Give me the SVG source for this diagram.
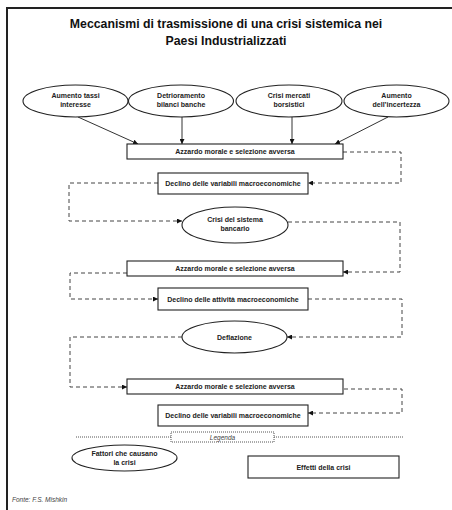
<svg xmlns="http://www.w3.org/2000/svg" width="452" height="510" viewBox="0 0 452 510">
<style>
.t{font-family:"Liberation Sans",Arial,sans-serif;font-weight:bold;font-size:7px;fill:#222;text-anchor:middle}
.title{font-family:"Liberation Sans",Arial,sans-serif;font-weight:bold;font-size:12.3px;fill:#111;text-anchor:middle}
.shape{fill:#fff;stroke:#222;stroke-width:1.1}
.solid{fill:none;stroke:#333;stroke-width:1}
.dash{fill:none;stroke:#444;stroke-width:1;stroke-dasharray:4,3}
.it{font-family:"Liberation Sans",Arial,sans-serif;font-style:italic;font-size:6.5px;fill:#444}
</style>
<defs>
<marker id="ah" viewBox="0 0 10 10" refX="10" refY="5" markerWidth="5" markerHeight="5" orient="auto" markerUnits="userSpaceOnUse">
<path d="M0,0 L10,5 L0,10 z" fill="#111"/>
</marker>
</defs>
<rect width="452" height="510" fill="#fff"/>
<path d="M7,510 V8 H452" fill="none" stroke="#222" stroke-width="2"/>
<g id="title">
<text class="title" x="226" y="28">Meccanismi di trasmissione di una crisi sistemica nei</text>
<text class="title" x="226" y="45">Paesi Industrializzati</text>
</g>
<g id="connectors">
<path class="solid" d="M78,117 L138,144" marker-end="url(#ah)"/>
<path class="solid" d="M182,117 V144" marker-end="url(#ah)"/>
<path class="solid" d="M292,117 V144" marker-end="url(#ah)"/>
<path class="solid" d="M388,117 L335,144" marker-end="url(#ah)"/>
<path class="dash" d="M343,152 H401 V183 H308" marker-end="url(#ah)"/>
<path class="dash" d="M158,183 H69 V221 H182" marker-end="url(#ah)"/>
<path class="dash" d="M288,222 H400 V272 H343" marker-end="url(#ah)"/>
<path class="dash" d="M127,273 H70 V299 H158" marker-end="url(#ah)"/>
<path class="dash" d="M308,299 H402 V337 H287" marker-end="url(#ah)"/>
<path class="dash" d="M182,337 H70 V387 H127" marker-end="url(#ah)"/>
<path class="dash" d="M344,389 H402 V413 H308" marker-end="url(#ah)"/>
</g>
<g id="n1"><ellipse class="shape" cx="75.5" cy="101" rx="52.5" ry="16"/><text class="t" x="75.5" y="98">Aumento tassi</text><text class="t" x="75.5" y="107">interesse</text></g>
<g id="n2"><ellipse class="shape" cx="181" cy="101" rx="52.5" ry="16"/><text class="t" x="181" y="98">Detrioramento</text><text class="t" x="181" y="107">bilanci banche</text></g>
<g id="n3"><ellipse class="shape" cx="289" cy="101" rx="53" ry="16"/><text class="t" x="289" y="98">Crisi mercati</text><text class="t" x="289" y="107">borsistici</text></g>
<g id="n4"><ellipse class="shape" cx="396.5" cy="101" rx="52.5" ry="16"/><text class="t" x="396.5" y="98">Aumento</text><text class="t" x="396.5" y="107">dell’incertezza</text></g>
<g id="b1"><rect class="shape" x="127" y="144" width="216" height="15"/><text class="t" x="235" y="154">Azzardo morale e selezione avversa</text></g>
<g id="b2"><rect class="shape" x="158" y="173" width="150" height="21"/><text class="t" x="233" y="186">Declino delle variabili macroeconomiche</text></g>
<g id="e1"><ellipse class="shape" cx="235" cy="225" rx="53" ry="18"/><text class="t" x="235" y="222">Crisi del sistema</text><text class="t" x="235" y="231">bancario</text></g>
<g id="b3"><rect class="shape" x="127" y="261" width="216" height="15"/><text class="t" x="235" y="271">Azzardo morale e selezione avversa</text></g>
<g id="b4"><rect class="shape" x="158" y="288" width="150" height="22"/><text class="t" x="233" y="302">Declino delle attività macroeconomiche</text></g>
<g id="e2"><ellipse class="shape" cx="234.5" cy="337" rx="52.5" ry="16"/><text class="t" x="234.5" y="340">Deflazione</text></g>
<g id="b5"><rect class="shape" x="127" y="379" width="216" height="15"/><text class="t" x="235" y="389">Azzardo morale e selezione avversa</text></g>
<g id="b6"><rect class="shape" x="158" y="405" width="150" height="21"/><text class="t" x="233" y="418">Declino delle variabili macroeconomiche</text></g>
<g id="legend">
<path d="M76,437 H403" fill="none" stroke="#555" stroke-width="1" stroke-dasharray="1,1"/>
<rect x="171" y="432" width="103" height="10" fill="#fff" stroke="#555" stroke-width="1" stroke-dasharray="1,1"/>
<text class="it" x="222.5" y="440" text-anchor="middle">Legenda</text>
</g>
<g id="leg1"><ellipse class="shape" cx="124.5" cy="458" rx="52.5" ry="13"/><text class="t" x="124.5" y="456">Fattori che causano</text><text class="t" x="124.5" y="465">la crisi</text></g>
<g id="leg2"><rect class="shape" x="248" y="456" width="151" height="22"/><text class="t" x="323.5" y="470">Effetti della crisi</text></g>
<text class="it" x="12" y="502">Fonte: F.S. Mishkin</text>
</svg>
